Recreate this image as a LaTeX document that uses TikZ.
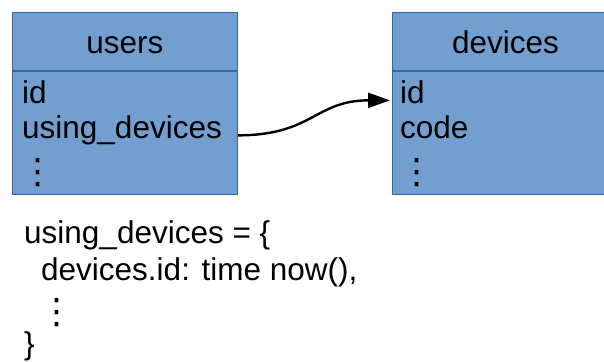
\documentclass[tikz,border=0pt]{standalone}
\usepackage{fontspec}
\setmainfont{Liberation Sans}
\newfontfamily\dotsfont{DejaVu Sans}
\usetikzlibrary{arrows.meta}
\definecolor{tblfill}{HTML}{729FCF}
\definecolor{tblline}{HTML}{3465A4}

\begin{document}
\begin{tikzpicture}[x=1pt,y=-1pt]
	\tikzstyle{tbl}=[draw=tblline,fill=tblfill,line width=0.8pt,anchor=north west,inner sep=0pt]
	\tikzstyle{titre}=[anchor=base,inner sep=0pt,font=\fontsize{31.5}{35}\selectfont]
	\tikzstyle{champ}=[anchor=base west,inner sep=0pt,font=\fontsize{31.5}{35}\selectfont]
	\tikzstyle{points}=[anchor=base,inner sep=0pt,font=\dotsfont\fontsize{35}{36}\selectfont]
	\tikzstyle{fleche}=[line width=2.4pt,-{Triangle[length=22pt,width=15pt]}]
	\useasboundingbox (0,0) rectangle (604,361);
	\clip (0,0) rectangle (604,361);
	% tables
	\node[tbl,minimum width=225pt,minimum height=58pt] (uhead) at (12,12){};
	\node[tbl,minimum width=225pt,minimum height=123pt] (ubody) at (uhead.south west){};
	\node[tbl,minimum width=226pt,minimum height=58pt] (dhead) at (392,12){};
	\node[tbl,minimum width=226pt,minimum height=123pt] (dbody) at (dhead.south west){};
	\node[titre] (utitle) at ([yshift=17pt]uhead.south){users};
	\node[titre] (dtitle) at ([yshift=17pt]dhead.south){devices};
	\node[champ] (uid) at (22,103){id};
	\node[champ] (udev) at (22,138){using\_devices};
	\node[points] (udots) at (38,183){⋮};
	\node[champ] (did) at (400,103){id};
	\node[champ] (dcode) at (400,138){code};
	\node[points] (ddots) at (417,183){⋮};
	% lien
	\draw[fleche] (ubody.east |- udev.mid east) .. controls +(75,0) and +(-75,0) .. ([xshift=-2pt]dbody.west |- did.mid west);
	% code
	\node[champ] (l1) at (24,243){using\_devices = \{};
	\node[champ] (l2) at (41,280){devices.id: time now(),};
	\node[points] (l3) at (57,323){⋮};
	\node[champ] (l4) at (24,354){\}};
\end{tikzpicture}
\end{document}
